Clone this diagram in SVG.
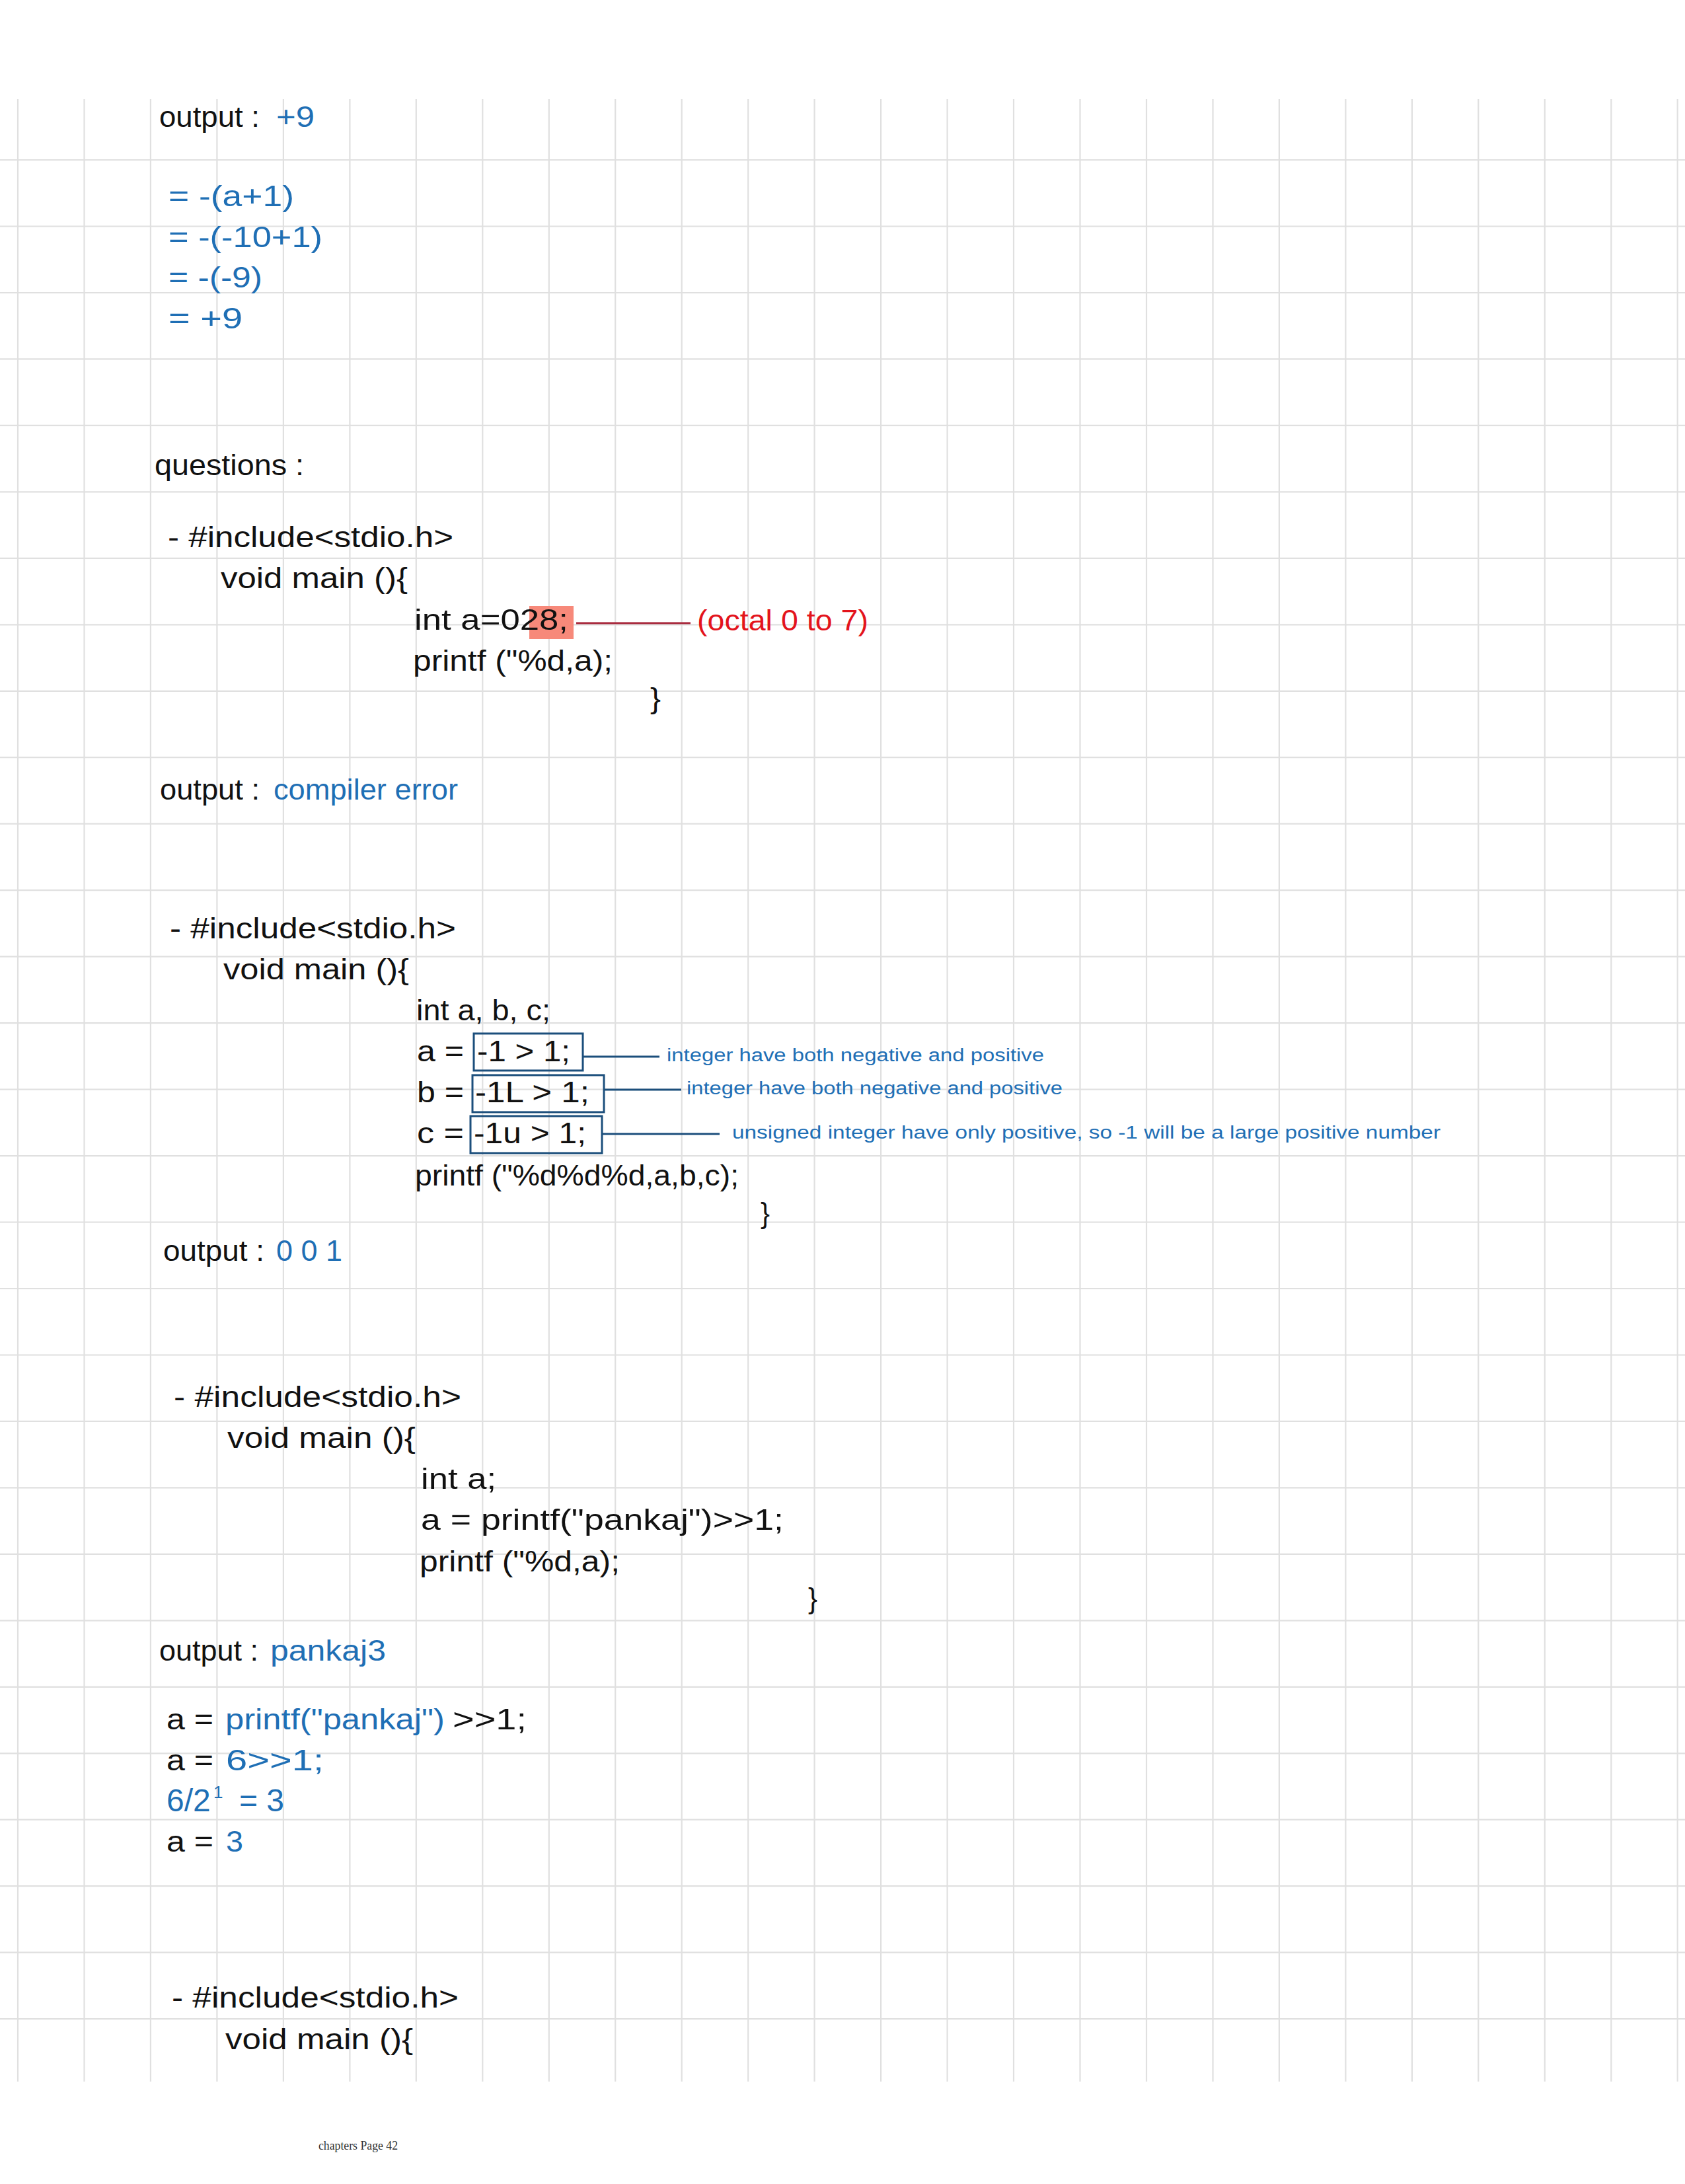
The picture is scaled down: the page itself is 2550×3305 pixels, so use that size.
<svg xmlns="http://www.w3.org/2000/svg" width="2550" height="3305" viewBox="0 0 2550 3305">
<style>
.grid line{stroke:#e0e0e0;stroke-width:2.2}
text{font-family:"Liberation Sans","DejaVu Sans",Arial,sans-serif}
.k{fill:#111;font-size:44px}
.b{fill:#1f6fb5;font-size:44px}
.r{fill:#e3141c;font-size:44px}
.lbl{fill:#1f6fb5;font-size:27px}
.sup{font-size:26px}
.box{fill:none;stroke:#1c4f7c;stroke-width:3}
.conn line{stroke-width:3}
.foot{font-family:"Liberation Serif","Times New Roman",serif;font-size:18px;fill:#333}
</style>
<rect x="0" y="0" width="2550" height="3305" fill="#fff"/>
<g class="grid" id="grid">
<line x1="0" y1="242" x2="2550" y2="242"/><line x1="0" y1="342.5" x2="2550" y2="342.5"/><line x1="0" y1="443" x2="2550" y2="443"/><line x1="0" y1="543.4" x2="2550" y2="543.4"/><line x1="0" y1="643.9" x2="2550" y2="643.9"/><line x1="0" y1="744.4" x2="2550" y2="744.4"/><line x1="0" y1="844.8" x2="2550" y2="844.8"/><line x1="0" y1="945.3" x2="2550" y2="945.3"/><line x1="0" y1="1045.8" x2="2550" y2="1045.8"/><line x1="0" y1="1146.2" x2="2550" y2="1146.2"/><line x1="0" y1="1246.7" x2="2550" y2="1246.7"/><line x1="0" y1="1347.2" x2="2550" y2="1347.2"/><line x1="0" y1="1447.6" x2="2550" y2="1447.6"/><line x1="0" y1="1548.1" x2="2550" y2="1548.1"/><line x1="0" y1="1648.6" x2="2550" y2="1648.6"/><line x1="0" y1="1749.1" x2="2550" y2="1749.1"/><line x1="0" y1="1849.5" x2="2550" y2="1849.5"/><line x1="0" y1="1950" x2="2550" y2="1950"/><line x1="0" y1="2050.5" x2="2550" y2="2050.5"/><line x1="0" y1="2150.9" x2="2550" y2="2150.9"/><line x1="0" y1="2251.4" x2="2550" y2="2251.4"/><line x1="0" y1="2351.9" x2="2550" y2="2351.9"/><line x1="0" y1="2452.3" x2="2550" y2="2452.3"/><line x1="0" y1="2552.8" x2="2550" y2="2552.8"/><line x1="0" y1="2653.3" x2="2550" y2="2653.3"/><line x1="0" y1="2753.7" x2="2550" y2="2753.7"/><line x1="0" y1="2854.2" x2="2550" y2="2854.2"/><line x1="0" y1="2954.7" x2="2550" y2="2954.7"/><line x1="0" y1="3055.2" x2="2550" y2="3055.2"/>
<line x1="27" y1="150" x2="27" y2="3150"/><line x1="127.5" y1="150" x2="127.5" y2="3150"/><line x1="227.9" y1="150" x2="227.9" y2="3150"/><line x1="328.4" y1="150" x2="328.4" y2="3150"/><line x1="428.9" y1="150" x2="428.9" y2="3150"/><line x1="529.4" y1="150" x2="529.4" y2="3150"/><line x1="629.8" y1="150" x2="629.8" y2="3150"/><line x1="730.3" y1="150" x2="730.3" y2="3150"/><line x1="830.8" y1="150" x2="830.8" y2="3150"/><line x1="931.2" y1="150" x2="931.2" y2="3150"/><line x1="1031.7" y1="150" x2="1031.7" y2="3150"/><line x1="1132.2" y1="150" x2="1132.2" y2="3150"/><line x1="1232.6" y1="150" x2="1232.6" y2="3150"/><line x1="1333.1" y1="150" x2="1333.1" y2="3150"/><line x1="1433.6" y1="150" x2="1433.6" y2="3150"/><line x1="1534" y1="150" x2="1534" y2="3150"/><line x1="1634.5" y1="150" x2="1634.5" y2="3150"/><line x1="1735" y1="150" x2="1735" y2="3150"/><line x1="1835.5" y1="150" x2="1835.5" y2="3150"/><line x1="1935.9" y1="150" x2="1935.9" y2="3150"/><line x1="2036.4" y1="150" x2="2036.4" y2="3150"/><line x1="2136.9" y1="150" x2="2136.9" y2="3150"/><line x1="2237.3" y1="150" x2="2237.3" y2="3150"/><line x1="2337.8" y1="150" x2="2337.8" y2="3150"/><line x1="2438.3" y1="150" x2="2438.3" y2="3150"/><line x1="2538.7" y1="150" x2="2538.7" y2="3150"/>
</g>

<g id="output-1">
<text class="k" x="241" y="192" textLength="152" lengthAdjust="spacingAndGlyphs">output :</text>
<text class="b" x="418" y="192" textLength="58" lengthAdjust="spacingAndGlyphs">+9</text>
</g>

<g id="math-1">
<text class="b" x="255" y="312" textLength="190" lengthAdjust="spacingAndGlyphs">= -(a+1)</text>
<text class="b" x="255" y="374" textLength="233" lengthAdjust="spacingAndGlyphs">= -(-10+1)</text>
<text class="b" x="255" y="435" textLength="142" lengthAdjust="spacingAndGlyphs">= -(-9)</text>
<text class="b" x="255" y="497" textLength="112" lengthAdjust="spacingAndGlyphs">= +9</text>
</g>

<g id="questions">
<text class="k" x="234" y="719" textLength="226" lengthAdjust="spacingAndGlyphs">questions :</text>
</g>

<g id="q1-code">
<text class="k" x="254" y="828" textLength="432" lengthAdjust="spacingAndGlyphs">- #include&lt;stdio.h&gt;</text>
<text class="k" x="334" y="890" textLength="283" lengthAdjust="spacingAndGlyphs">void main (){</text>
<rect x="801" y="917" width="67" height="50" fill="#f7897a"/>
<text class="k" x="627" y="953" textLength="233" lengthAdjust="spacingAndGlyphs">int a=028;</text>
<text class="k" x="625" y="1015" textLength="302" lengthAdjust="spacingAndGlyphs">printf ("%d,a);</text>
<text class="k" x="984" y="1072" textLength="16" lengthAdjust="spacingAndGlyphs">}</text>
</g>

<g id="q1-note">
<text class="r" x="1055" y="954" textLength="259" lengthAdjust="spacingAndGlyphs">(octal 0 to 7)</text>
</g>

<g id="output-2">
<text class="k" x="242" y="1210" textLength="151" lengthAdjust="spacingAndGlyphs">output :</text>
<text class="b" x="414" y="1210" textLength="279" lengthAdjust="spacingAndGlyphs">compiler error</text>
</g>

<g id="q2-code">
<text class="k" x="257" y="1420" textLength="433" lengthAdjust="spacingAndGlyphs">- #include&lt;stdio.h&gt;</text>
<text class="k" x="338" y="1482" textLength="281" lengthAdjust="spacingAndGlyphs">void main (){</text>
<text class="k" x="630" y="1544" textLength="203" lengthAdjust="spacingAndGlyphs">int a, b, c;</text>
<text class="k" x="631" y="1606" textLength="71" lengthAdjust="spacingAndGlyphs">a =</text>
<rect class="box" x="717" y="1564" width="165" height="56"/>
<text class="k" x="722" y="1606" textLength="141" lengthAdjust="spacingAndGlyphs">-1 &gt; 1;</text>
<text class="k" x="631" y="1668" textLength="71" lengthAdjust="spacingAndGlyphs">b =</text>
<rect class="box" x="715" y="1627" width="199" height="56"/>
<text class="k" x="719" y="1668" textLength="173" lengthAdjust="spacingAndGlyphs">-1L &gt; 1;</text>
<text class="k" x="631" y="1730" textLength="71" lengthAdjust="spacingAndGlyphs">c =</text>
<rect class="box" x="712" y="1689" width="199" height="56"/>
<text class="k" x="717" y="1730" textLength="170" lengthAdjust="spacingAndGlyphs">-1u &gt; 1;</text>
<text class="k" x="628" y="1794" textLength="490" lengthAdjust="spacingAndGlyphs">printf ("%d%d%d,a,b,c);</text>
<text class="k" x="1151" y="1851" textLength="14" lengthAdjust="spacingAndGlyphs">}</text>
</g>

<g id="q2-notes">
<text class="lbl" x="1009" y="1606" textLength="571" lengthAdjust="spacingAndGlyphs">integer have both negative and positive</text>
<text class="lbl" x="1039" y="1656" textLength="569" lengthAdjust="spacingAndGlyphs">integer have both negative and positive</text>
<text class="lbl" x="1108" y="1723" textLength="1072" lengthAdjust="spacingAndGlyphs">unsigned integer have only positive, so -1 will be a large positive number</text>
</g>

<g id="output-3">
<text class="k" x="247" y="1908" textLength="153" lengthAdjust="spacingAndGlyphs">output :</text>
<text class="b" x="418" y="1908" textLength="100" lengthAdjust="spacingAndGlyphs">0 0 1</text>
</g>

<g id="q3-code">
<text class="k" x="263" y="2129" textLength="435" lengthAdjust="spacingAndGlyphs">- #include&lt;stdio.h&gt;</text>
<text class="k" x="344" y="2191" textLength="285" lengthAdjust="spacingAndGlyphs">void main (){</text>
<text class="k" x="637" y="2253" textLength="114" lengthAdjust="spacingAndGlyphs">int a;</text>
<text class="k" x="637" y="2315" textLength="549" lengthAdjust="spacingAndGlyphs">a = printf("pankaj")&gt;&gt;1;</text>
<text class="k" x="635" y="2378" textLength="303" lengthAdjust="spacingAndGlyphs">printf ("%d,a);</text>
<text class="k" x="1223" y="2434" textLength="14" lengthAdjust="spacingAndGlyphs">}</text>
</g>

<g id="output-4">
<text class="k" x="241" y="2513" textLength="150" lengthAdjust="spacingAndGlyphs">output :</text>
<text class="b" x="409" y="2513" textLength="175" lengthAdjust="spacingAndGlyphs">pankaj3</text>
</g>

<g id="explain-3">
<text class="k" x="252" y="2617" textLength="71" lengthAdjust="spacingAndGlyphs">a =</text>
<text class="b" x="341" y="2617" textLength="332" lengthAdjust="spacingAndGlyphs">printf("pankaj")</text>
<text class="k" x="685" y="2617" textLength="112" lengthAdjust="spacingAndGlyphs">&gt;&gt;1;</text>
<text class="k" x="252" y="2679" textLength="71" lengthAdjust="spacingAndGlyphs">a =</text>
<text class="b" x="342" y="2679" textLength="148" lengthAdjust="spacingAndGlyphs">6&gt;&gt;1;</text>
<text class="b" x="252" y="2741" style="font-size:48px">6/2<tspan class="sup" x="323" dy="-20">1</tspan><tspan x="362" dy="20">= 3</tspan></text>
<text class="k" x="252" y="2802" textLength="71" lengthAdjust="spacingAndGlyphs">a =</text>
<text class="b" x="342" y="2802" textLength="26" lengthAdjust="spacingAndGlyphs">3</text>
</g>

<g id="q4-code">
<text class="k" x="260" y="3038" textLength="434" lengthAdjust="spacingAndGlyphs">- #include&lt;stdio.h&gt;</text>
<text class="k" x="341" y="3101" textLength="284" lengthAdjust="spacingAndGlyphs">void main (){</text>
</g>

<g id="connectors" class="conn">
<line x1="872" y1="943" x2="1045" y2="943" stroke="#a8293c"/>
<line x1="882" y1="1599" x2="998" y2="1599" stroke="#1c4f7c"/>
<line x1="914" y1="1649" x2="1031" y2="1649" stroke="#1c4f7c"/>
<line x1="911" y1="1716" x2="1089" y2="1716" stroke="#1c4f7c"/>
</g>

<g id="footer">
<text class="foot" x="482" y="3253" textLength="120" lengthAdjust="spacingAndGlyphs">chapters Page 42</text>
</g>
</svg>
